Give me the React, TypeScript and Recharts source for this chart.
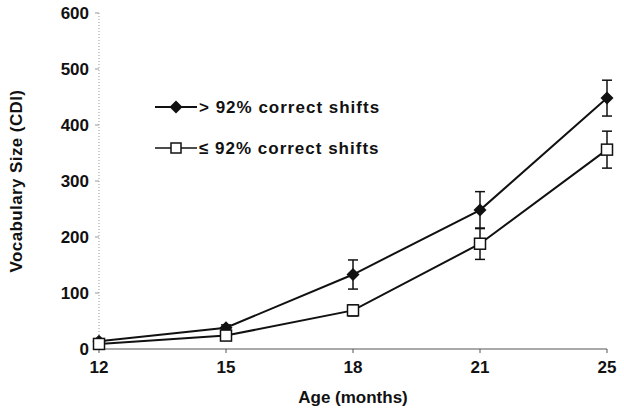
import React from 'react'
import { LineChart, Line, XAxis, YAxis, ErrorBar, Label } from 'recharts'

const ages = ['12', '15', '18', '21', '25']
const highShifts = [14, 38, 133, 248, 448]
const highErr = [4, 5, 26, 33, 32]
const lowShifts = [9, 24, 69, 188, 356]
const lowErr = [3, 3, 10, 28, 33]
const yTicks = [0, 100, 200, 300, 400, 500, 600]

const data = ages.map((age, i) => ({
  age,
  high: highShifts[i],
  highErr: highErr[i],
  low: lowShifts[i],
  lowErr: lowErr[i],
}))

const FONT = '"Liberation Sans", Arial, sans-serif'
const INK = '#111'

const Diamond = ({ cx, cy }: any) => {
  if (cx == null || cy == null) return null
  return <path d={`M${cx},${cy - 6.5}L${cx + 6.5},${cy}L${cx},${cy + 6.5}L${cx - 6.5},${cy}Z`} fill={INK} />
}

const Square = ({ cx, cy }: any) => {
  if (cx == null || cy == null) return null
  return <rect x={cx - 5.5} y={cy - 5.5} width={11} height={11} fill="#fff" stroke={INK} strokeWidth={1.5} />
}

// legend sits inside the plot, drawn outside recharts so it doesn't eat layout space
function ShiftLegend() {
  return (
    <svg width={240} height={70} style={{ position: 'absolute', left: 150, top: 95 }}>
      <line x1={5} y1={12} x2={47} y2={12} stroke={INK} strokeWidth={2} />
      <path d="M26,5.5L32.5,12L26,18.5L19.5,12Z" fill={INK} />
      <text x={49} y={18} fontFamily={FONT} fontWeight="bold" fontSize={17} letterSpacing={1} fill={INK}>
        {'> 92% correct shifts'}
      </text>
      <line x1={5} y1={53} x2={47} y2={53} stroke={INK} strokeWidth={1.5} />
      <rect x={21} y={48} width={10} height={10} fill="#fff" stroke={INK} strokeWidth={1.5} />
      <text x={49} y={59} fontFamily={FONT} fontWeight="bold" fontSize={17} letterSpacing={1} fill={INK}>
        {'≤ 92% correct shifts'}
      </text>
    </svg>
  )
}

const tickStyle = { fontFamily: FONT, fontWeight: 'bold' as const, fontSize: 17, fill: INK }

export default function App() {
  return (
    <div style={{ position: 'absolute', left: 0, top: 0, width: 624, height: 416, background: '#fff' }}>
      <LineChart width={624} height={416} data={data} margin={{ top: 13, right: 17, bottom: 0, left: 0 }}>
        <XAxis
          dataKey="age"
          height={67}
          tick={tickStyle}
          tickSize={4}
          tickMargin={8}
          axisLine={{ stroke: '#555', strokeWidth: 1 }}
          tickLine={{ stroke: '#555' }}
        >
          <Label
            content={({ viewBox }: any) => (
              <text
                x={viewBox.x + viewBox.width / 2}
                y={403}
                textAnchor="middle"
                fontFamily={FONT}
                fontWeight="bold"
                fontSize={17}
                fill={INK}
              >
                Age (months)
              </text>
            )}
          />
        </XAxis>
        <YAxis
          width={99}
          domain={[0, 600]}
          ticks={yTicks}
          tick={tickStyle}
          tickSize={4}
          tickMargin={6}
          axisLine={{ stroke: '#999', strokeDasharray: '1 2' }}
          tickLine={{ stroke: '#999' }}
          interval={0}
        >
          <Label
            content={({ viewBox }: any) => (
              <text
                x={22}
                y={viewBox.y + viewBox.height / 2}
                transform={`rotate(-90, 22, ${viewBox.y + viewBox.height / 2})`}
                textAnchor="middle"
                fontFamily={FONT}
                fontWeight="bold"
                fontSize={17}
                letterSpacing={0.4}
                fill={INK}
              >
                Vocabulary Size (CDI)
              </text>
            )}
          />
        </YAxis>
        <Line
          dataKey="high"
          name="> 92% correct shifts"
          stroke={INK}
          strokeWidth={2}
          dot={<Diamond />}
          isAnimationActive={false}
        >
          <ErrorBar dataKey="highErr" width={5} stroke={INK} strokeWidth={1.5} direction="y" />
        </Line>
        <Line
          dataKey="low"
          name="≤ 92% correct shifts"
          stroke={INK}
          strokeWidth={2}
          dot={<Square />}
          isAnimationActive={false}
        >
          <ErrorBar dataKey="lowErr" width={5} stroke={INK} strokeWidth={1.5} direction="y" />
        </Line>
      </LineChart>
      <ShiftLegend />
    </div>
  )
}
